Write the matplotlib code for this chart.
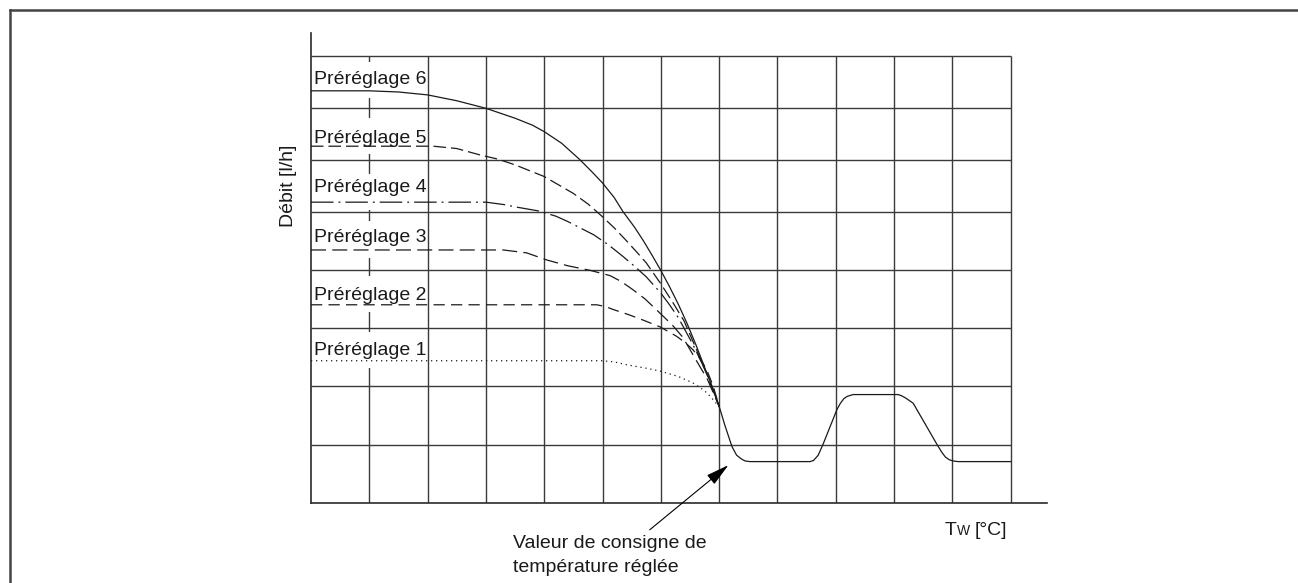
import matplotlib.pyplot as plt
from matplotlib.lines import Line2D
from matplotlib.patches import Rectangle

plt.rcParams['font.family'] = ['Liberation Sans', 'DejaVu Sans']

# grid (one unit = one column of the chart)
col_edges = [1, 2, 3, 4, 5, 6, 7, 8, 9, 10, 11, 12]
row_edges = [1, 2, 3, 4, 5, 5.88, 6.78, 7.66]

# preset curves (flat part, then bending down to the set point)
p6_x = [0, 1.0, 1.5, 2.0, 2.5, 3.0, 3.5, 3.8, 4.0, 4.3, 4.6, 4.8, 5.0, 5.2, 5.35, 5.55, 5.7,
        5.85, 6.0, 6.15, 6.3, 6.45, 6.6, 6.75, 6.88, 7.0]
p6_y = [7.07, 7.07, 7.05, 7.0, 6.9, 6.77, 6.6, 6.48, 6.37, 6.17, 5.9, 5.7, 5.49, 5.24, 5.0,
        4.73, 4.5, 4.25, 3.99, 3.71, 3.41, 3.08, 2.72, 2.33, 2.0, 1.66]

p5_x = [0, 2.1, 2.5, 2.9, 3.2, 3.5, 4.0, 4.5, 4.75, 5.0, 5.2, 5.4, 5.6, 5.75, 6.0, 6.2, 6.4,
        6.6, 6.8, 7.0]
p5_y = [6.12, 6.12, 6.08, 5.97, 5.9, 5.8, 5.6, 5.31, 5.13, 4.91, 4.72, 4.51, 4.29, 4.12, 3.76,
        3.45, 3.12, 2.66, 2.18, 1.66]

p4_x = [0, 3.0, 3.3, 3.5, 3.9, 4.2, 4.4, 4.85, 5.1, 5.35, 5.55, 5.75, 6.0, 6.15, 6.3, 6.55,
        6.8, 7.0]
p4_y = [5.16, 5.16, 5.12, 5.08, 5.01, 4.92, 4.83, 4.6, 4.43, 4.23, 4.06, 3.88, 3.6, 3.4,
        3.18, 2.72, 2.2, 1.66]

p3_x = [0, 3.3, 3.7, 4.04, 4.4, 4.79, 5.13, 5.32, 5.52, 5.73, 5.93, 6.2, 6.38, 6.6, 6.8, 7.0]
p3_y = [4.34, 4.34, 4.29, 4.17, 4.07, 3.99, 3.9, 3.8, 3.66, 3.5, 3.31, 3.05, 2.84, 2.46,
        2.12, 1.66]

p2_x = [0, 4.9, 5.05, 5.18, 5.45, 5.69, 5.99, 6.27, 6.42, 6.55, 6.68, 6.79, 6.9, 7.0]
p2_y = [3.40, 3.40, 3.37, 3.32, 3.23, 3.14, 3.02, 2.86, 2.75, 2.63, 2.47, 2.28, 2.0, 1.66]

p1_x = [0, 5.0, 5.2, 5.42, 5.76, 6.0, 6.3, 6.55, 6.7, 6.79, 6.9, 7.0]
p1_y = [2.44, 2.44, 2.42, 2.37, 2.31, 2.26, 2.17, 2.06, 1.96, 1.89, 1.77, 1.65]

# common curve after the set point
sp_x = [7.0, 7.1, 7.22, 7.3, 7.39, 7.45, 7.53, 8.56, 8.62, 8.7, 8.78, 9.02, 9.08, 9.14,
        9.2, 9.3, 10.07, 10.13, 10.2, 10.26, 10.33, 10.74, 10.82, 10.88, 10.95, 11.02, 11.1, 12.0]
sp_y = [1.66, 1.33, 0.97, 0.82, 0.75, 0.72, 0.71, 0.71, 0.73, 0.82, 1.0, 1.6, 1.71, 1.79,
        1.83, 1.86, 1.86, 1.84, 1.8, 1.76, 1.71, 1.0, 0.87, 0.79, 0.74, 0.72, 0.71, 0.71]

labels = ['Préréglage 6', 'Préréglage 5', 'Préréglage 4',
          'Préréglage 3', 'Préréglage 2', 'Préréglage 1']
levels = [7.07, 6.12, 5.16, 4.34, 3.40, 2.44]
label_y = [7.19, 6.17, 5.33, 4.48, 3.48, 2.54]

curves = [(p6_x, p6_y, '-'),
          (p5_x, p5_y, (0, (10, 4))),
          (p4_x, p4_y, (0, (18, 4, 1.5, 4))),
          (p3_x, p3_y, (0, (12, 5))),
          (p2_x, p2_y, (0, (9, 5))),
          (p1_x, p1_y, (0, (1, 3)))]

fig = plt.figure(figsize=(12.98, 5.83), dpi=100)
ax = fig.add_axes([311/1298, 80/583, 736/1298, 470/583])
ax.set_xlim(0, 736/58.3)
ax.set_ylim(0, 470/58.3)
ax.set_xticks([])
ax.set_yticks([])
for s in ['top', 'right']:
    ax.spines[s].set_visible(False)
for s in ['left', 'bottom']:
    ax.spines[s].set_color('#2a2a2a')
    ax.spines[s].set_linewidth(1.2)

ax.vlines(col_edges, 0, row_edges[-1], color='#3a3a3a', lw=1.0, zorder=1)
ax.hlines(row_edges, 0, col_edges[-1], color='#3a3a3a', lw=1.0, zorder=1)

# white boxes behind preset labels
for lvl in levels:
    ax.add_patch(Rectangle((0.03, lvl - 0.13), 1.94, 0.62, facecolor='white',
                           edgecolor='none', zorder=2))

for (xs, ys, ls) in curves:
    ax.plot(xs, ys, color='#1a1a1a', lw=0.9, linestyle=ls, zorder=3)
ax.plot(sp_x, sp_y, color='#1a1a1a', lw=0.9, zorder=3)

for lab, yy in zip(labels, label_y):
    ax.text(0.05, yy, lab, fontsize=14, color='#1a1a1a', va='baseline', ha='left', zorder=4)

ax.text(-0.39, 5.44, 'Débit [l/h]', rotation=90, fontsize=14, color='#1a1a1a',
        ha='center', va='center', clip_on=False)

# x axis label: T with small W
ax.text(10.87, -0.55, 'T', fontsize=14, color='#1a1a1a', va='baseline', clip_on=False)
ax.text(11.08, -0.55, 'W', fontsize=10, color='#1a1a1a', va='baseline', clip_on=False)
ax.text(11.38, -0.55, '[°C]', fontsize=14, color='#1a1a1a', va='baseline', clip_on=False)

ax.text(3.46, -0.77, 'Valeur de consigne de', fontsize=14, color='#1a1a1a',
        va='baseline', clip_on=False)
ax.text(3.46, -1.18, 'température réglée', fontsize=14, color='#1a1a1a',
        va='baseline', clip_on=False)

ax.annotate('', xy=(7.16, 0.65), xytext=(5.81, -0.46),
            arrowprops=dict(arrowstyle='-|>,head_length=0.8,head_width=0.2',
                            mutation_scale=18, lw=0.8, color='black',
                            shrinkA=0, shrinkB=0),
            annotation_clip=False)

# frame lines (top and left)
fig.add_artist(Line2D([10/1298, 1], [1 - 9.5/583, 1 - 9.5/583], transform=fig.transFigure,
                      color='#444444', lw=1.8))
fig.add_artist(Line2D([10/1298, 10/1298], [0, 1 - 9.5/583], transform=fig.transFigure,
                      color='#444444', lw=1.8))

fig.savefig('out.png', dpi=100)
